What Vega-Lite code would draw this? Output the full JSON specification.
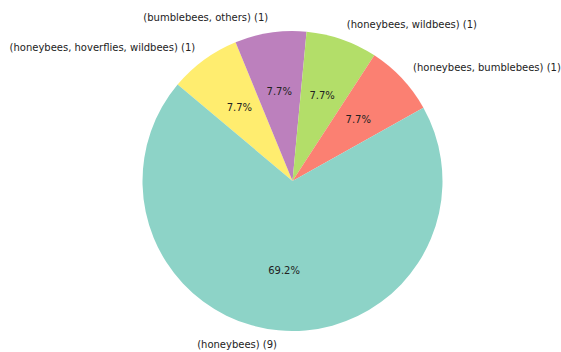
{
  "$schema": "https://vega.github.io/schema/vega-lite/v6.json",
  "autosize": {"type": "fit", "contains": "padding"},
  "width": 561,
  "height": 352,
  "padding": {"left": 21, "top": 10, "right": 0, "bottom": 0},
  "background": "white",
  "view": {"stroke": null},
  "data": {
    "values": [
      {"label": "(honeybees, hoverflies, wildbees) (1)", "count": 1, "pct": "7.7%", "ord": 0, "side": "left"},
      {"label": "(bumblebees, others) (1)", "count": 1, "pct": "7.7%", "ord": 1, "side": "left"},
      {"label": "(honeybees, wildbees) (1)", "count": 1, "pct": "7.7%", "ord": 2, "side": "right"},
      {"label": "(honeybees, bumblebees) (1)", "count": 1, "pct": "7.7%", "ord": 3, "side": "right"},
      {"label": "(honeybees) (9)", "count": 9, "pct": "69.2%", "ord": 4, "side": "left"}
    ]
  },
  "encoding": {
    "theta": {"field": "count", "type": "quantitative", "stack": true, "scale": {"range": [-0.87266, 5.41053]}},
    "order": {"field": "ord", "type": "quantitative", "sort": "ascending"}
  },
  "layer": [
    {
      "mark": {"type": "arc", "outerRadius": 150},
      "encoding": {
        "color": {
          "field": "label",
          "type": "nominal",
          "legend": null,
          "scale": {
            "domain": ["(honeybees, hoverflies, wildbees) (1)", "(bumblebees, others) (1)", "(honeybees, wildbees) (1)", "(honeybees, bumblebees) (1)", "(honeybees) (9)"],
            "range": ["#ffed6f", "#bc80bd", "#b3de69", "#fb8072", "#8dd3c7"]
          }
        }
      }
    },
    {
      "mark": {"type": "text", "radius": 90, "font": "DejaVu Sans", "fontSize": 10, "color": "#222", "align": "center", "baseline": "middle"},
      "encoding": {"text": {"field": "pct"}}
    },
    {
      "mark": {"type": "text", "radius": 165, "font": "DejaVu Sans", "fontSize": 10, "color": "#222", "align": "right", "baseline": "middle"},
      "encoding": {"text": {"condition": {"test": "datum.side === 'left'", "field": "label"}, "value": ""}}
    },
    {
      "mark": {"type": "text", "radius": 165, "font": "DejaVu Sans", "fontSize": 10, "color": "#222", "align": "left", "baseline": "middle"},
      "encoding": {"text": {"condition": {"test": "datum.side === 'right'", "field": "label"}, "value": ""}}
    }
  ]
}
